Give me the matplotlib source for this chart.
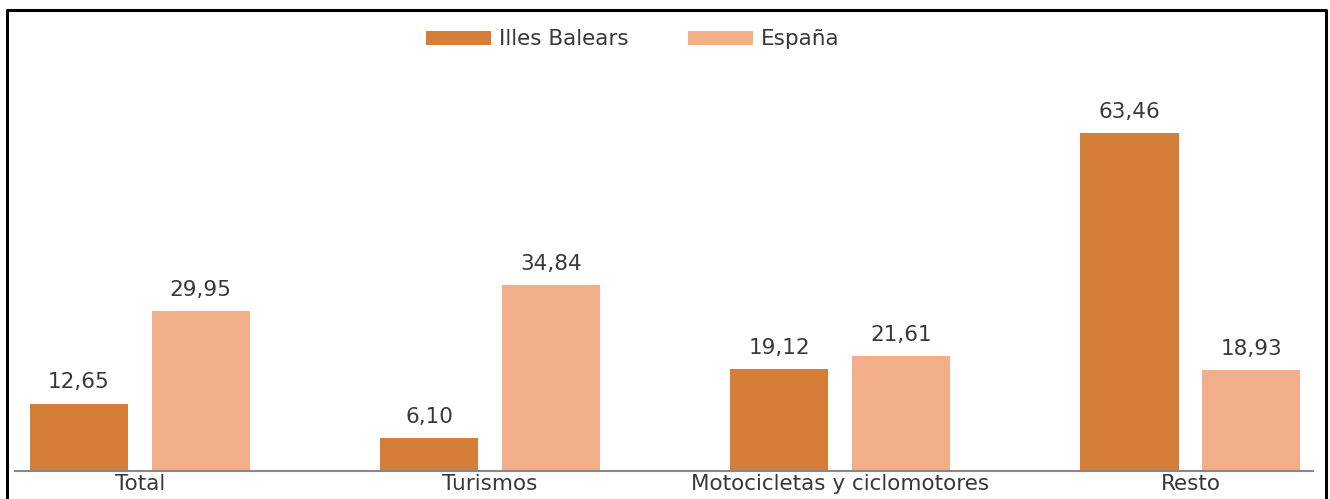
import numpy as np
import matplotlib.pyplot as plt

categories = ["Total", "Turismos", "Motocicletas y ciclomotores", "Resto"]
illes_balears = [12.65, 6.10, 19.12, 63.46]
espana = [29.95, 34.84, 21.61, 18.93]
series_names = ["Illes Balears", "España"]

plt.rcParams['font.family'] = ['DejaVu Sans']

W, H = 1330, 499
fig = plt.figure(figsize=(W / 100, H / 100), dpi=100)
ax = fig.add_axes([15 / W, (H - 471) / H, (1313 - 15) / W, (471 - 10) / H])

x = np.arange(len(categories))
width = 0.28
off = 0.174
c_ib = "#D57E38"
c_es = "#F2AE88"
txt = "#383838"
fs = 15.5

b1 = ax.bar(x - off, illes_balears, width, color=c_ib, label=series_names[0])
b2 = ax.bar(x + off, espana, width, color=c_es, label=series_names[1])

for bars, vals in ((b1, illes_balears), (b2, espana)):
    for b, v in zip(bars, vals):
        ax.annotate(f"{v:.2f}".replace(".", ","),
                    (b.get_x() + b.get_width() / 2, v),
                    xytext=(0, 8), textcoords="offset points",
                    ha="center", va="bottom", fontsize=fs, color=txt)

ax.set_xlim(-0.356, 3.35)
ax.set_ylim(0, 86.5)
ax.set_xticks(x)
ax.set_xticklabels(categories, fontsize=fs, color=txt)
ax.tick_params(axis="x", length=0, pad=2)
ax.set_yticks([])
for s in ("top", "left", "right"):
    ax.spines[s].set_visible(False)
ax.spines["bottom"].set_color("#888888")
ax.spines["bottom"].set_linewidth(1.5)

ax.legend(loc="upper center", bbox_to_anchor=(0.476, 1.0), ncol=2, frameon=False,
          fontsize=fs, handlelength=3.0, handleheight=0.6, handletextpad=0.35,
          columnspacing=2.8, labelcolor=txt)

# outer frame (left, top, right)
fig.add_artist(plt.Line2D([7 / W, 7 / W, 1326 / W, 1326 / W],
                          [0, (H - 10) / H, (H - 10) / H, 0],
                          transform=fig.transFigure, color="black", linewidth=2.2))

fig.savefig("out.png", dpi=100)
